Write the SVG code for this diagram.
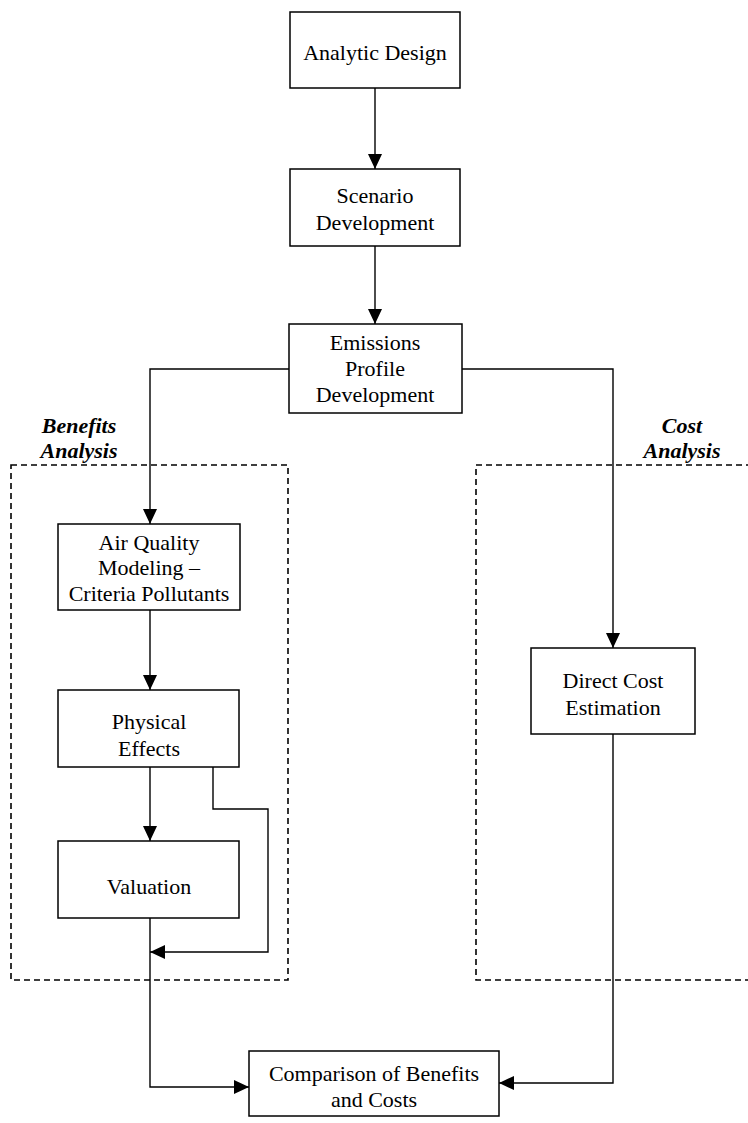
<svg xmlns="http://www.w3.org/2000/svg" width="748" height="1123" viewBox="0 0 748 1123">
<style>
.box{fill:#fff;stroke:#000;stroke-width:1.5}
.t{font-family:"Liberation Serif","Times New Roman",serif;font-size:22px;fill:#000;text-anchor:middle}
.lbl{font-family:"Liberation Serif","Times New Roman",serif;font-size:22px;font-weight:bold;font-style:italic;fill:#000;text-anchor:middle}
.c{fill:none;stroke:#000;stroke-width:1.4}
.dash{fill:none;stroke:#000;stroke-width:1.6;stroke-dasharray:6 4}
</style>
<defs>
<marker id="ah" viewBox="0 0 10 10" refX="10" refY="5" markerWidth="10" markerHeight="10" markerUnits="userSpaceOnUse" orient="auto">
<path d="M0,0 L10,5 L0,10 Z" fill="#000"/>
</marker>
<marker id="arr" viewBox="0 0 15 14" refX="15" refY="7" markerWidth="15" markerHeight="14" markerUnits="userSpaceOnUse" orient="auto">
<path d="M0,0 L15,7 L0,14 Z" fill="#000"/>
</marker>
</defs>
<rect width="748" height="1123" fill="#fff"/>
<g id="groups">
<rect class="dash" x="11" y="465" width="277" height="515"/>
<rect class="dash" x="476" y="465" width="300" height="515"/>
<text class="lbl" x="79" y="433">Benefits</text>
<text class="lbl" x="79" y="458">Analysis</text>
<text class="lbl" x="682" y="433">Cost</text>
<text class="lbl" x="682" y="458">Analysis</text>
</g>
<g id="connectors">
<path class="c" d="M375,88 V169" marker-end="url(#arr)"/>
<path class="c" d="M375,246 V324" marker-end="url(#arr)"/>
<path class="c" d="M289,369 H150 V524" marker-end="url(#arr)"/>
<path class="c" d="M462,369 H613 V648" marker-end="url(#arr)"/>
<path class="c" d="M150,610 V690" marker-end="url(#arr)"/>
<path class="c" d="M150,767 V841" marker-end="url(#arr)"/>
<path class="c" d="M213,767 V809 H268 V952 H150" marker-end="url(#arr)"/>
<path class="c" d="M150,918 V1087 H249" marker-end="url(#arr)"/>
<path class="c" d="M613,734 V1083 H499" marker-end="url(#arr)"/>
</g>
<g id="analytic-design">
<rect class="box" x="290" y="12" width="170" height="76"/>
<text class="t" x="375" y="60">Analytic Design</text>
</g>
<g id="scenario-development">
<rect class="box" x="290" y="169" width="170" height="77"/>
<text class="t" x="375" y="203">Scenario</text>
<text class="t" x="375" y="230">Development</text>
</g>
<g id="emissions-profile">
<rect class="box" x="289" y="324" width="173" height="89"/>
<text class="t" x="375" y="350">Emissions</text>
<text class="t" x="375" y="376">Profile</text>
<text class="t" x="375" y="402">Development</text>
</g>
<g id="air-quality">
<rect class="box" x="58" y="524" width="182" height="86"/>
<text class="t" x="149" y="550">Air Quality</text>
<text class="t" x="149" y="575">Modeling –</text>
<text class="t" x="149" y="601">Criteria Pollutants</text>
</g>
<g id="physical-effects">
<rect class="box" x="58" y="690" width="181" height="77"/>
<text class="t" x="149" y="729">Physical</text>
<text class="t" x="149" y="756">Effects</text>
</g>
<g id="valuation">
<rect class="box" x="58" y="841" width="181" height="77"/>
<text class="t" x="149" y="894">Valuation</text>
</g>
<g id="direct-cost">
<rect class="box" x="531" y="648" width="164" height="86"/>
<text class="t" x="613" y="688">Direct Cost</text>
<text class="t" x="613" y="715">Estimation</text>
</g>
<g id="comparison">
<rect class="box" x="249" y="1051" width="250" height="65"/>
<text class="t" x="374" y="1081">Comparison of Benefits</text>
<text class="t" x="374" y="1107">and Costs</text>
</g>
</svg>
